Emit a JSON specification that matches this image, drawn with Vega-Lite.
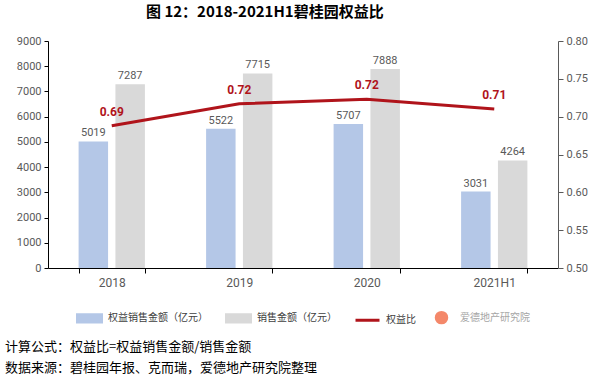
{
  "$schema": "https://vega.github.io/schema/vega-lite/v6.json",
  "padding": {"left": 5, "top": 5, "right": 8, "bottom": 2},
  "background": "white",
  "title": {
    "text": ["计算公式：权益比=权益销售金额/销售金额", "数据来源：碧桂园年报、克而瑞，爱德地产研究院整理"],
    "orient": "bottom",
    "anchor": "start",
    "font": "Noto Sans CJK SC",
    "fontSize": 13,
    "fontWeight": "normal",
    "color": "#000000",
    "lineHeight": 21,
    "offset": 12
  },
  "datasets": {
    "bars": [
      {"year": "2018", "series": "权益销售金额（亿元）", "value": 5019},
      {"year": "2018", "series": "销售金额（亿元）", "value": 7287},
      {"year": "2019", "series": "权益销售金额（亿元）", "value": 5522},
      {"year": "2019", "series": "销售金额（亿元）", "value": 7715},
      {"year": "2020", "series": "权益销售金额（亿元）", "value": 5707},
      {"year": "2020", "series": "销售金额（亿元）", "value": 7888},
      {"year": "2021H1", "series": "权益销售金额（亿元）", "value": 3031},
      {"year": "2021H1", "series": "销售金额（亿元）", "value": 4264}
    ],
    "ratio": [
      {"year": "2018", "ratio": 0.688},
      {"year": "2019", "ratio": 0.717},
      {"year": "2020", "ratio": 0.723},
      {"year": "2021H1", "ratio": 0.710}
    ]
  },
  "vconcat": [
    {
      "title": {
        "text": "图 12：2018-2021H1碧桂园权益比",
        "font": "Noto Sans CJK SC",
        "fontSize": 15,
        "fontWeight": "bold",
        "color": "#000000",
        "anchor": "start",
        "frame": "group",
        "dx": 98,
        "offset": 15
      },
      "width": 510,
      "height": 227,
      "layer": [
        {
          "data": {"name": "bars"},
          "encoding": {
            "x": {
              "field": "year", "type": "nominal", "sort": null,
              "scale": {"paddingInner": 0.48, "paddingOuter": 0.24},
              "axis": {"title": null, "labelAngle": 0, "tickBand": "extent", "tickSize": 5, "labelPadding": 4, "labelFontSize": 12, "domainColor": "#000000", "tickColor": "#000000"}
            },
            "xOffset": {"field": "series", "type": "nominal", "sort": null, "scale": {"paddingInner": 0.2}},
            "y": {
              "field": "value", "type": "quantitative",
              "scale": {"domain": [0, 9000]},
              "axis": {"title": null, "values": [0, 1000, 2000, 3000, 4000, 5000, 6000, 7000, 8000, 9000], "format": "d", "tickSize": 4, "labelPadding": 3, "minExtent": 43, "domainColor": "#000000", "tickColor": "#000000"}
            }
          },
          "layer": [
            {
              "mark": {"type": "bar"},
              "encoding": {
                "color": {
                  "field": "series", "type": "nominal",
                  "scale": {
                    "domain": ["权益销售金额（亿元）", "销售金额（亿元）", "权益比", "爱德地产研究院"],
                    "range": ["#b4c7e7", "#d9d9d9", "#b0141b", "#f4886a"]
                  },
                  "legend": {
                    "title": null,
                    "orient": "bottom",
                    "direction": "horizontal",
                    "offset": 16,
                    "labelFont": "Noto Sans CJK SC",
                    "labelFontSize": 10,
                    "labelColor": "#404040",
                    "labelOffset": 5,
                    "columnPadding": 12,
                    "symbolSize": 576,
                    "encode": {
                      "symbols": {
                        "update": {
                          "shape": {"signal": "datum.value === '权益比' ? 'stroke' : datum.value === '爱德地产研究院' ? 'circle' : 'M-1,-0.3H1V0.3H-1Z'"},
                          "size": {"signal": "datum.value === '爱德地产研究院' ? 110 : 576"},
                          "fill": {"signal": "datum.value === '权益比' ? 'transparent' : scale('color', datum.value)"},
                          "stroke": {"signal": "datum.value === '权益比' ? scale('color', datum.value) : 'transparent'"},
                          "strokeWidth": {"value": 3},
                          "opacity": {"value": 1}
                        }
                      },
                      "labels": {
                        "update": {
                          "fill": {"signal": "datum.value === '爱德地产研究院' ? '#a6a6a6' : '#404040'"}
                        }
                      }
                    }
                  }
                }
              }
            },
            {
              "mark": {"type": "text", "baseline": "bottom", "dy": -3, "fontSize": 11, "color": "#595959", "font": "Roboto"},
              "encoding": {"text": {"field": "value", "type": "quantitative", "format": "d"}}
            }
          ]
        },
        {
          "data": {"name": "ratio"},
          "encoding": {
            "x": {"field": "year", "type": "nominal", "sort": null},
            "y": {
              "field": "ratio", "type": "quantitative",
              "scale": {"domain": [0.5, 0.8]},
              "axis": {"title": null, "orient": "right", "values": [0.5, 0.55, 0.6, 0.65, 0.7, 0.75, 0.8], "format": ".2f", "tickSize": 5, "labelPadding": 3, "domainColor": "#595959", "tickColor": "#595959"}
            }
          },
          "layer": [
            {
              "mark": {"type": "line", "strokeWidth": 3},
              "encoding": {"color": {"datum": "权益比"}}
            },
            {
              "mark": {"type": "text", "baseline": "bottom", "dy": -7, "fontSize": 12, "fontWeight": "bold", "color": "#b0141b", "font": "Roboto"},
              "encoding": {"text": {"field": "ratio", "type": "quantitative", "format": ".2f"}}
            }
          ]
        }
      ],
      "resolve": {"scale": {"y": "independent"}}
    }
  ],
  "config": {
    "view": {"stroke": null},
    "font": "Noto Sans CJK SC",
    "axis": {"labelFont": "Roboto", "labelColor": "#595959", "labelFontSize": 11, "grid": false},
    "legend": {"layout": {"bottom": {"anchor": "middle"}}}
  }
}
